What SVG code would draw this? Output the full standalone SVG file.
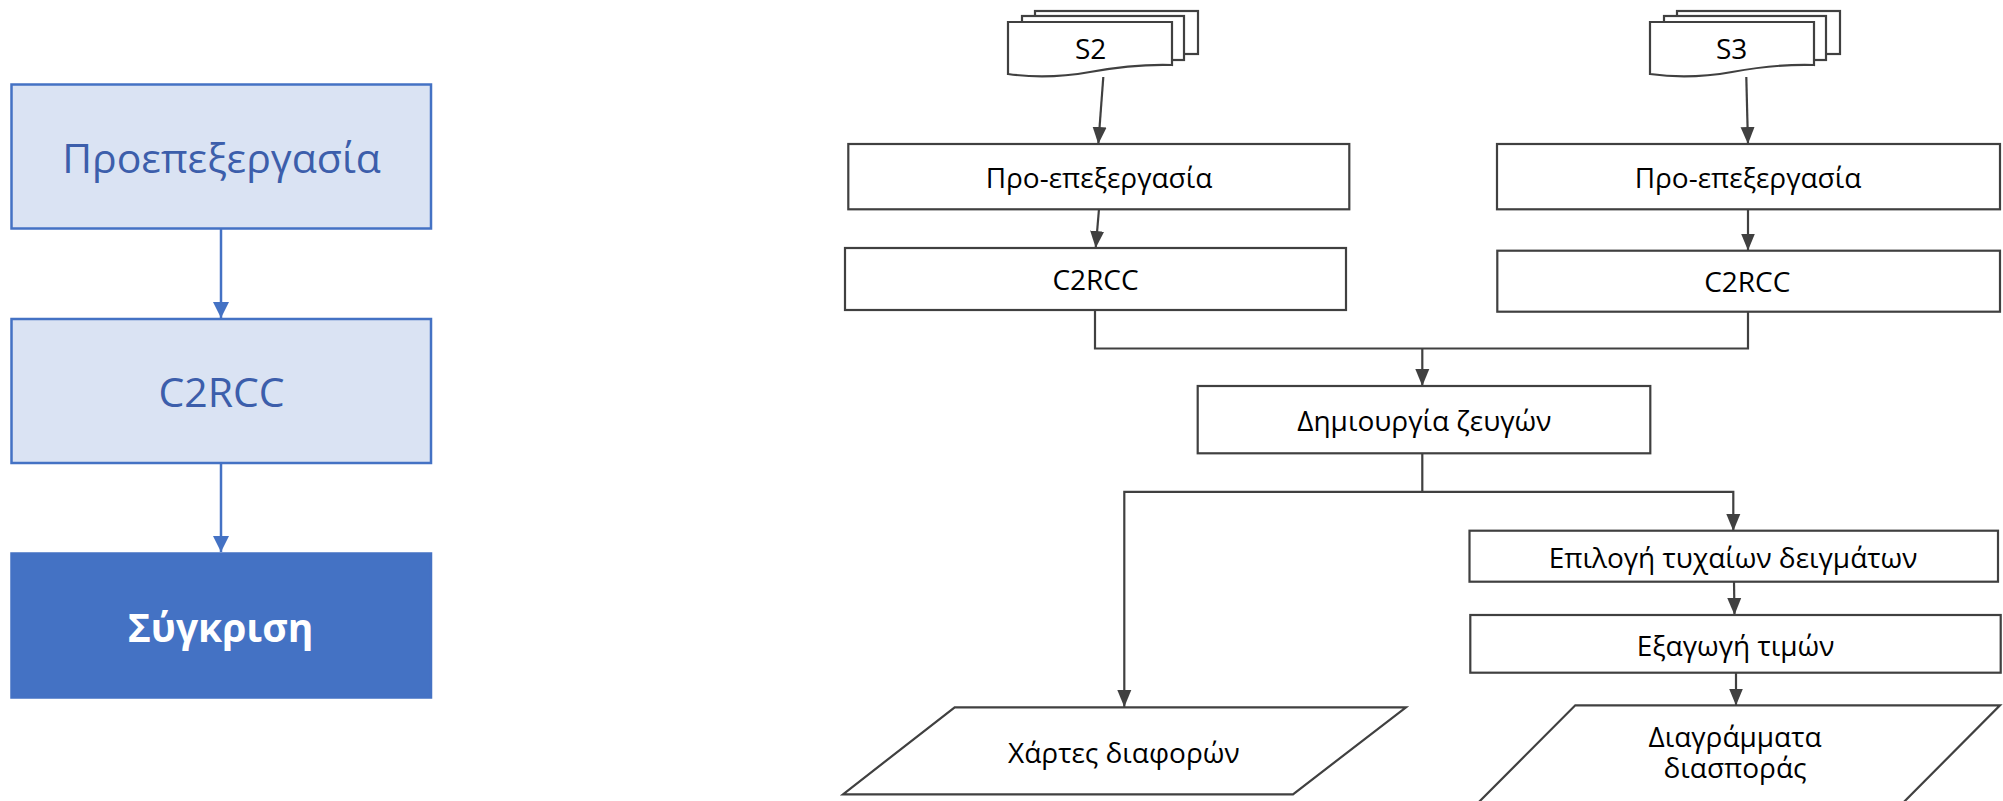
<svg xmlns="http://www.w3.org/2000/svg" width="2003" height="801" viewBox="0 0 2003 801">
  <style>
    .bg { fill: #ffffff; }
    .lbox { fill: #DAE3F3; stroke: #4472C4; stroke-width: 2.5; }
    .lbox-dark { fill: #4472C4; stroke: #4472C4; stroke-width: 2.5; }
    .ltxt { font-family: "Open Sans", "Liberation Sans", sans-serif; font-size: 41px; fill: #3C5EAB; text-anchor: middle; }
    .ltxt-b { font-family: "Open Sans", "Liberation Sans", sans-serif; font-size: 39px; font-weight: bold; fill: #ffffff; text-anchor: middle; }
    .lconn { fill: none; stroke: #4472C4; stroke-width: 2.5; }
    .box { fill: #ffffff; stroke: #404040; stroke-width: 2.2; }
    .txt { font-family: "Open Sans", "Liberation Sans", sans-serif; font-size: 28px; fill: #000000; text-anchor: middle; }
    .conn { fill: none; stroke: #404040; stroke-width: 2.2; }
  </style>
  <defs>
    <marker id="arrowBlue" markerUnits="userSpaceOnUse" markerWidth="18" markerHeight="18" viewBox="0 0 18 18" refX="16" refY="9" orient="auto">
      <path d="M0,1 L16,9 L0,17 Z" fill="#4472C4"/>
    </marker>
    <marker id="arrowGray" markerUnits="userSpaceOnUse" markerWidth="18" markerHeight="16" viewBox="0 0 18 16" refX="17" refY="8" orient="auto">
      <path d="M0,1 L17,8 L0,15 Z" fill="#404040"/>
    </marker>
    <!-- stack of three documents, front page with a wavy lower edge -->
    <g id="docStack">
      <rect class="box" x="1035" y="11" width="163" height="43"/>
      <rect class="box" x="1022" y="16" width="162" height="44"/>
      <path class="box" d="M1008,22 H1172 V65 C1140,64 1112,68 1090,72 C1062,77 1036,78 1008,74 Z"/>
    </g>
  </defs>

  <rect class="bg" x="0" y="0" width="2003" height="801"/>

  <!-- overview column -->
  <g id="overview-connectors">
    <line class="lconn" x1="221" y1="229" x2="221" y2="318" marker-end="url(#arrowBlue)"/>
    <line class="lconn" x1="221" y1="463" x2="221" y2="552" marker-end="url(#arrowBlue)"/>
  </g>
  <g id="ov-preprocessing">
    <rect class="lbox" x="11.5" y="84.5" width="419.5" height="144"/>
    <text class="ltxt" x="221.5" y="172.5">Προεπεξεργασία</text>
  </g>
  <g id="ov-c2rcc">
    <rect class="lbox" x="11.5" y="319" width="419.5" height="144"/>
    <text class="ltxt" x="221.5" y="407">C2RCC</text>
  </g>
  <g id="ov-comparison">
    <rect class="lbox-dark" x="11.5" y="553.5" width="419.5" height="144"/>
    <text class="ltxt-b" x="220.5" y="642">Σύγκριση</text>
  </g>

  <!-- detailed workflow: connectors -->
  <g id="connectors">
    <line class="conn" x1="1103.3" y1="77" x2="1098.3" y2="144" marker-end="url(#arrowGray)"/>
    <line class="conn" x1="1099" y1="209" x2="1095.7" y2="248" marker-end="url(#arrowGray)"/>
    <line class="conn" x1="1746.3" y1="77" x2="1748" y2="144" marker-end="url(#arrowGray)"/>
    <line class="conn" x1="1748" y1="209.5" x2="1748" y2="250.5" marker-end="url(#arrowGray)"/>
    <path class="conn" d="M1095,310 V348.5 H1748 V311.5"/>
    <line class="conn" x1="1422.3" y1="348.5" x2="1422.3" y2="386" marker-end="url(#arrowGray)"/>
    <path class="conn" d="M1422.3,453.3 V491.8 H1124.3 V707" marker-end="url(#arrowGray)"/>
    <path class="conn" d="M1422.3,491.8 H1733.3 V531" marker-end="url(#arrowGray)"/>
    <line class="conn" x1="1734" y1="582" x2="1734.5" y2="615" marker-end="url(#arrowGray)"/>
    <line class="conn" x1="1736" y1="673" x2="1736" y2="705.5" marker-end="url(#arrowGray)"/>
  </g>

  <g id="s2">
    <use href="#docStack"/>
    <text class="txt" x="1090.7" y="59.3">S2</text>
  </g>
  <g id="s3">
    <use href="#docStack" transform="translate(642,0)"/>
    <text class="txt" x="1731.7" y="59.3">S3</text>
  </g>

  <g id="preprocessing-s2">
    <rect class="box" x="848.3" y="144" width="501" height="65.3"/>
    <text class="txt" x="1099" y="188.3">Προ-επεξεργασία</text>
  </g>
  <g id="c2rcc-s2">
    <rect class="box" x="845" y="248" width="501" height="62"/>
    <text class="txt" x="1095.5" y="290">C2RCC</text>
  </g>
  <g id="preprocessing-s3">
    <rect class="box" x="1497" y="144" width="503" height="65.3"/>
    <text class="txt" x="1748" y="188.3">Προ-επεξεργασία</text>
  </g>
  <g id="c2rcc-s3">
    <rect class="box" x="1497.3" y="250.7" width="502.7" height="61"/>
    <text class="txt" x="1747.3" y="291.7">C2RCC</text>
  </g>

  <g id="pairing">
    <rect class="box" x="1197.7" y="386" width="452.6" height="67.3"/>
    <text class="txt" x="1424.3" y="431">Δημιουργία ζευγών</text>
  </g>

  <g id="difference-maps">
    <polygon class="box" points="954.7,707.3 1406,707.3 1293,794.3 843,794.3"/>
    <text class="txt" x="1123.8" y="762.7">Χάρτες διαφορών</text>
  </g>

  <g id="random-samples">
    <rect class="box" x="1469.5" y="530.7" width="528.5" height="51"/>
    <text class="txt" x="1733" y="568.3">Επιλογή τυχαίων δειγμάτων</text>
  </g>
  <g id="value-extraction">
    <rect class="box" x="1470.3" y="615" width="530.4" height="57.7"/>
    <text class="txt" x="1735.5" y="655.7">Εξαγωγή τιμών</text>
  </g>

  <g id="scatter-plots">
    <polygon class="box" points="1575.3,705.3 2000,705.3 1881,825 1456,825"/>
    <text class="txt"><tspan x="1735" y="746.7">Διαγράμματα</tspan><tspan x="1735" y="777.5">διασποράς</tspan></text>
  </g>
</svg>
